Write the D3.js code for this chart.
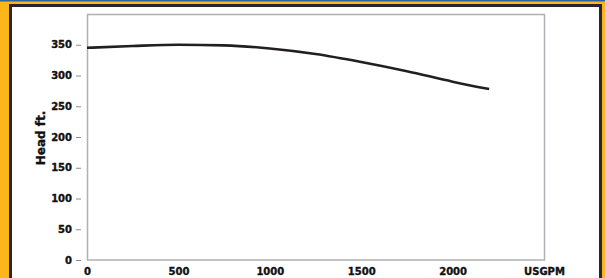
<!DOCTYPE html>
<html>
<head>
<meta charset="utf-8">
<script src="https://cdn.jsdelivr.net/npm/d3@7"></script>
<style>
  html, body { margin: 0; padding: 0; background: #fdb61a; }
  svg { display: block; }
  text { font-family: "DejaVu Sans", Arial, sans-serif; font-weight: bold; fill: #111; }
</style>
</head>
<body>
<svg id="chart" width="605" height="278"></svg>
<script>
// pump curve
const flowGpm = [0, 250, 500, 750, 1000, 1250, 1500, 1750, 2000, 2200];
const headFt = [345, 348, 350, 349, 344, 335, 322, 307, 290, 278];
const xTicks = [0, 500, 1000, 1500, 2000, 2500];
const yTicks = [0, 50, 100, 150, 200, 250, 300, 350];

const svg = d3.select("#chart");
const W = 605, H = 278;
const FONT = "'DejaVu Sans', Arial, sans-serif";

// orange page + thin blue strip on top
svg.append("rect").attr("width", W).attr("height", H).attr("fill", "#fdb61a");
svg.append("rect").attr("width", W).attr("height", 1.5).attr("fill", "#2b63a8");

// dark frame
svg.append("rect")
    .attr("x", 10.5).attr("y", 5.5)
    .attr("width", 590).attr("height", 300)
    .attr("fill", "#fff")
    .attr("stroke", "#2a2627")
    .attr("stroke-width", 3);

const plot = { left: 87, right: 544, top: 14, bottom: 259.5 };

const x = d3.scaleLinear().domain([0, 2500]).range([plot.left, plot.right]);
const y = d3.scaleLinear().domain([0, 400]).range([260, plot.top]);

// plot box
svg.append("rect")
    .attr("x", plot.left + 0.5).attr("y", plot.top + 0.5)
    .attr("width", plot.right - plot.left).attr("height", plot.bottom - plot.top)
    .attr("fill", "none")
    .attr("stroke", "#aeb0b3")
    .attr("stroke-width", 1.5);

function heavy(sel, size) {
    sel.style("font-size", size)
        .style("font-family", FONT)
        .style("font-weight", "bold")
        .attr("fill", "#111")
        .attr("stroke", "#111")
        .attr("stroke-width", 0.35);
}

// y axis
const yAxis = svg.append("g")
    .attr("transform", `translate(${plot.left - 6},0)`)
    .call(d3.axisLeft(y).tickValues(yTicks).tickSize(5).tickPadding(4));
yAxis.select(".domain").remove();
yAxis.selectAll("line").attr("stroke", "#8a8c8e");
heavy(yAxis.selectAll("text"), "10px");

// x axis
const xAxis = svg.append("g")
    .attr("transform", `translate(0,${plot.bottom})`)
    .call(d3.axisBottom(x).tickValues(xTicks).tickSize(0).tickPadding(8)
        .tickFormat(d => d === 2500 ? "USGPM" : d));
xAxis.select(".domain").remove();
heavy(xAxis.selectAll("text"), "10px");

// axis title
heavy(svg.append("text")
    .attr("transform", "translate(45,138) rotate(-90)")
    .attr("text-anchor", "middle")
    .text("Head ft."), "12px");

// curve
const line = d3.line()
    .x((d, i) => x(flowGpm[i]))
    .y(d => y(d))
    .curve(d3.curveMonotoneX);

svg.append("path")
    .datum(headFt)
    .attr("fill", "none")
    .attr("stroke", "#231f20")
    .attr("stroke-width", 2.6)
    .attr("d", line);
</script>
</body>
</html>
